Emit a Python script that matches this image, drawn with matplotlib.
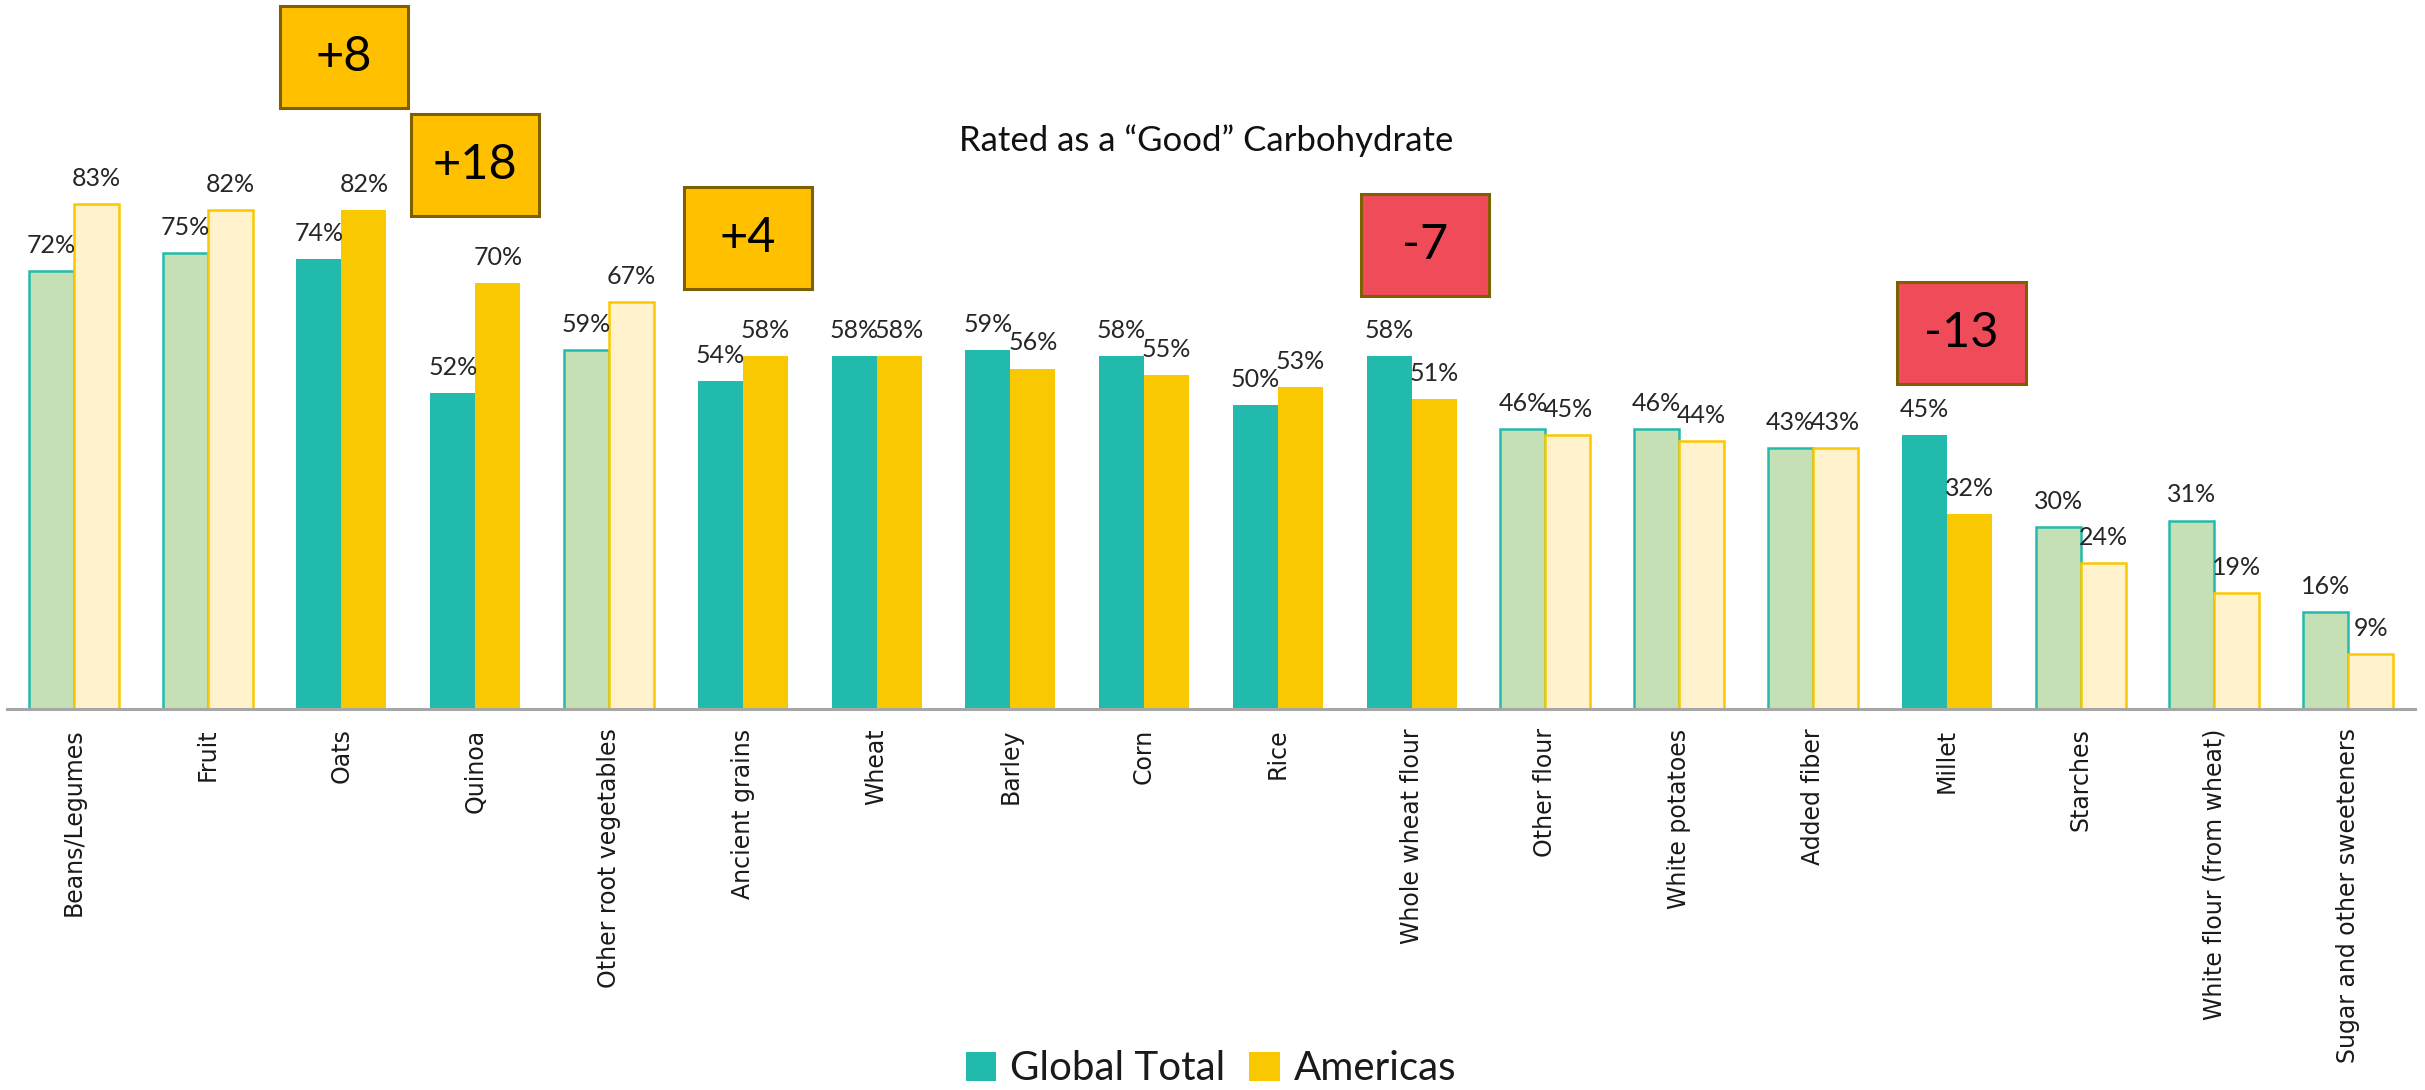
import matplotlib
matplotlib.use("Agg")
import matplotlib.pyplot as plt
from matplotlib.patches import Rectangle, Patch
import numpy as np

# ---- data -------------------------------------------------------------
categories = [
    "Beans/Legumes", "Fruit", "Oats", "Quinoa", "Other root vegetables",
    "Ancient grains", "Wheat", "Barley", "Corn", "Rice", "Whole wheat flour",
    "Other flour", "White potatoes", "Added fiber", "Millet", "Starches",
    "White flour (from wheat)", "Sugar and other sweeteners",
]
global_total = [72, 75, 74, 52, 59, 54, 58, 59, 58, 50, 58, 46, 46, 43, 45, 30, 31, 16]
americas = [83, 82, 82, 70, 67, 58, 58, 56, 55, 53, 51, 45, 44, 43, 32, 24, 19, 9]
# categories drawn in full colour (the rest are shown muted)
highlighted = ["Oats", "Quinoa", "Ancient grains", "Wheat", "Barley", "Corn",
               "Rice", "Whole wheat flour", "Millet"]
# categories with a difference call-out box
callouts = ["Oats", "Quinoa", "Ancient grains", "Whole wheat flour", "Millet"]

title = "Rated as a \u201cGood\u201d Carbohydrate"
series_names = ["Global Total", "Americas"]

# ---- styling ----------------------------------------------------------
TEAL = "#23BAAE"
GOLD = "#FAC800"
TEAL_LIGHT = "#C5E0B4"
GOLD_LIGHT = "#FFF2CC"
UP_FILL = "#FFC000"
DOWN_FILL = "#EF4B59"
BOX_EDGE = "#7F6000"

# call-out box layout: horizontal shift (category units), bottom (value units)
callout_layout = {
    "Oats": (0.02, 98.8),
    "Quinoa": (0.0, 81.1),
    "Ancient grains": (0.04, 69.1),
    "Whole wheat flour": (0.10, 67.9),
    "Millet": (0.11, 53.5),
}
BOX_W = 0.957
BOX_H = 16.8

W, H = 2425, 1090
fig = plt.figure(figsize=(W / 100, H / 100), dpi=100)
ax = fig.add_axes([7 / W, 1 - 709 / H, (2415 - 7) / W, 709 / H])

x = np.arange(len(categories))
bw = 0.336
ax.set_xlim(-0.5, len(categories) - 0.5)
ax.set_ylim(0, 709 / 6.08)

for i, cat in enumerate(categories):
    strong = cat in highlighted
    g_fc = TEAL if strong else TEAL_LIGHT
    a_fc = GOLD if strong else GOLD_LIGHT
    lw = 0 if strong else 1.8
    ax.bar(x[i] - bw / 2, global_total[i], bw, color=g_fc, edgecolor=TEAL,
           linewidth=lw, zorder=2)
    ax.bar(x[i] + bw / 2, americas[i], bw, color=a_fc, edgecolor=GOLD,
           linewidth=lw, zorder=2)
    for dx, v in ((-bw / 2, global_total[i]), (bw / 2, americas[i])):
        ax.annotate(f"{v}%", (x[i] + dx, v), xytext=(0, 13),
                    textcoords="offset points", ha="center", va="baseline",
                    fontsize=18, family="Lato", color="#262626")

# difference call-outs
for cat in callouts:
    i = categories.index(cat)
    diff = americas[i] - global_total[i]
    shift, bottom = callout_layout[cat]
    cx = x[i] + shift
    fc = UP_FILL if diff > 0 else DOWN_FILL
    ax.add_patch(Rectangle((cx - BOX_W / 2, bottom), BOX_W, BOX_H,
                           facecolor=fc, edgecolor=BOX_EDGE, linewidth=2.2,
                           zorder=4, clip_on=False))
    ax.text(cx, bottom + BOX_H / 2, f"{diff:+d}", ha="center", va="center",
            fontsize=35, family="Lato", color="black", zorder=5)

# axes styling
for s in ("top", "right", "left"):
    ax.spines[s].set_visible(False)
ax.spines["bottom"].set_color("#A6A6A6")
ax.spines["bottom"].set_linewidth(2.2)
ax.spines["bottom"].set_zorder(3)
ax.set_yticks([])
ax.set_xticks(x)
ax.set_xticklabels(categories, rotation=90, fontsize=17, family="DejaVu Sans",
                   color="#1a1a1a")
ax.tick_params(axis="x", length=0, pad=14)

fig.text(1206 / W, 1 - 141 / H, title, ha="center", va="center",
         fontsize=25, family="Lato", color="#111111")

handles = [Patch(facecolor=TEAL, edgecolor="none"),
           Patch(facecolor=GOLD, edgecolor="none")]
fig.legend(handles, series_names, loc="center", bbox_to_anchor=(1211 / W, 1 - 1069 / H),
           ncol=2, frameon=False,
           prop={"family": "Lato", "weight": "normal", "size": 29},
           labelcolor="#1a1a1a",
           handlelength=0.75, handleheight=0.75, handletextpad=0.35,
           columnspacing=0.6, borderpad=0)

fig.savefig("out.png", dpi=100)
